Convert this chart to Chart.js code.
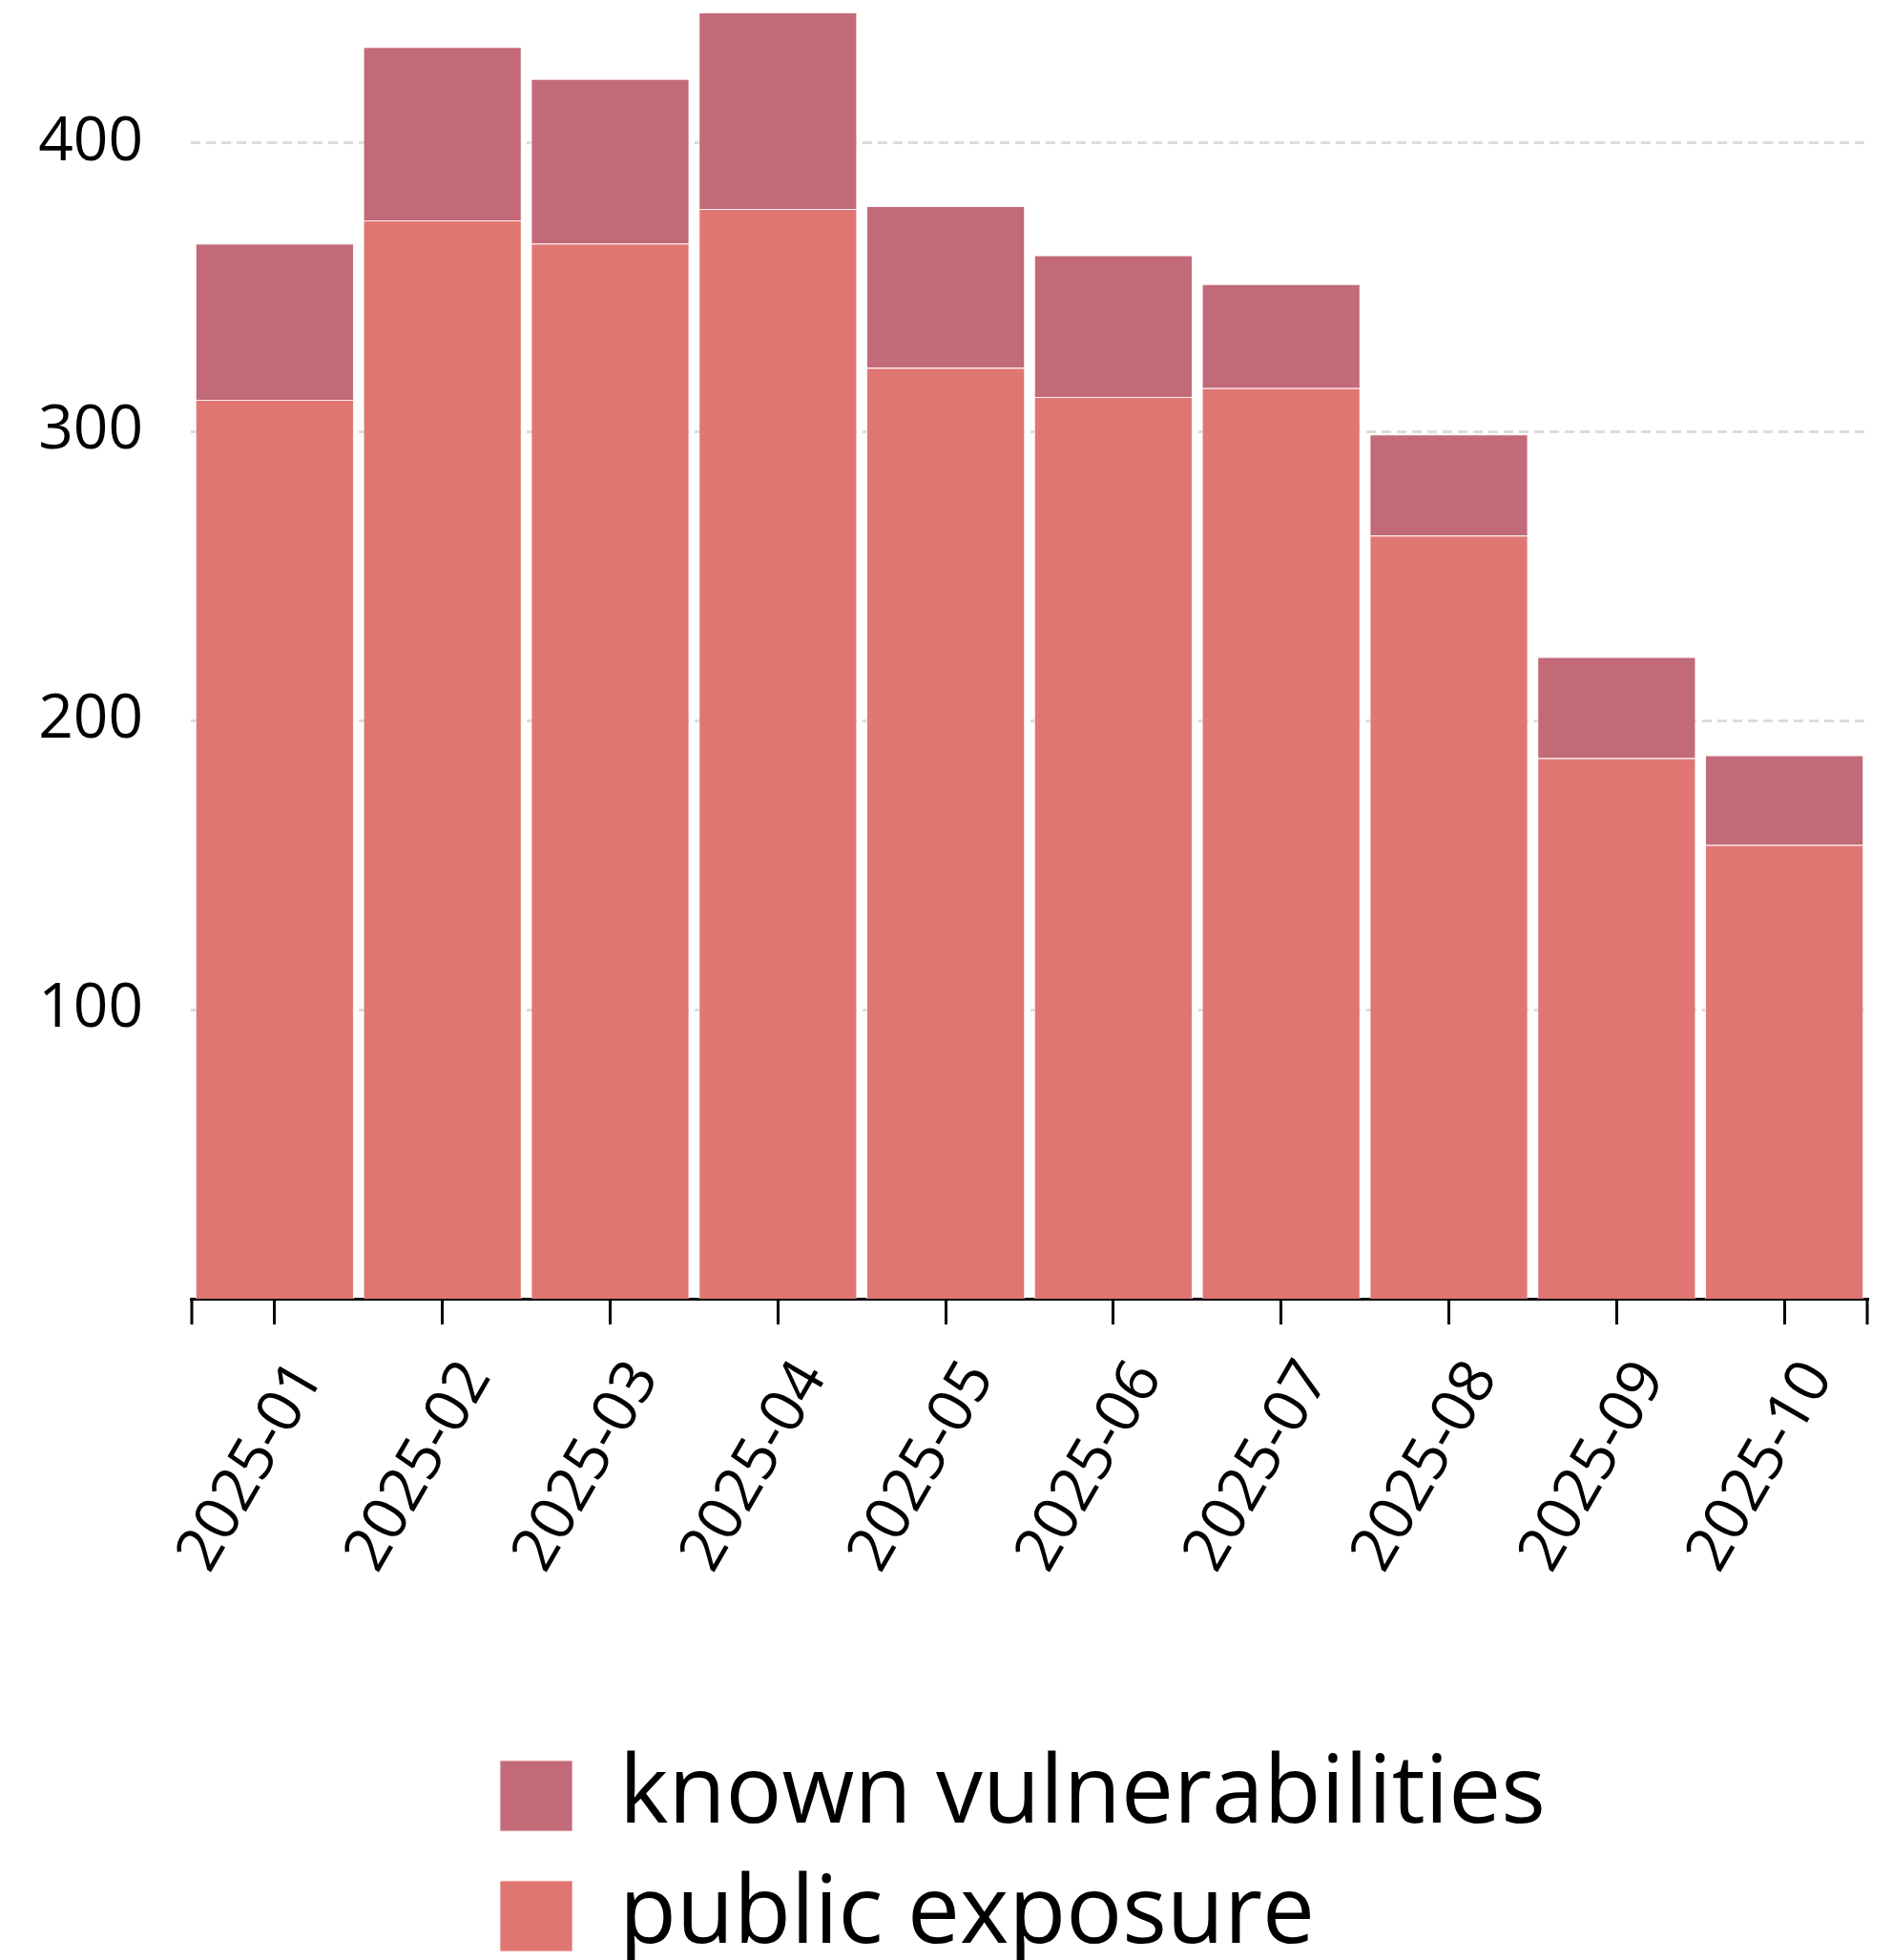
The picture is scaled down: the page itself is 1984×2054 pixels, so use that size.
<!DOCTYPE html>
<html>
<head>
<meta charset="utf-8">
<script src="https://cdn.jsdelivr.net/npm/chart.js@4.4.1/dist/chart.umd.min.js"></script>
<style>
  html, body { margin: 0; padding: 0; background: #fff; }
  canvas { display: block; }
</style>
</head>
<body>
<canvas id="riskChart" width="1984" height="2054"></canvas>
<script>
let months = ["2025-01", "2025-02", "2025-03", "2025-04", "2025-05",
              "2025-06", "2025-07", "2025-08", "2025-09", "2025-10"];
let publicExposure = [311, 373, 365, 377, 322, 312, 315, 264, 187, 157];
let knownVulns = [54, 60, 57, 68, 56, 49, 36, 35, 35, 31];
let yTicks = [100, 200, 300, 400];
let yMax = 445;

Chart.defaults.font.family = "'Open Sans', sans-serif";
Chart.defaults.color = "#000";

// end ticks at both sides of the x axis
const axisEnds = {
    id: "axisEnds",
    afterDraw(chart) {
        let ctx = chart.ctx;
        let area = chart.chartArea;
        ctx.save();
        ctx.strokeStyle = "#000";
        ctx.lineWidth = 3;
        ctx.beginPath();
        ctx.moveTo(area.left + 1, area.bottom);
        ctx.lineTo(area.left + 1, area.bottom + 27);
        ctx.moveTo(area.right - 1, area.bottom);
        ctx.lineTo(area.right - 1, area.bottom + 27);
        ctx.stroke();
        ctx.restore();
    }
};

// legend block sits left-aligned under the plot
const legendPlacement = {
    id: "legendPlacement",
    afterLayout(chart) {
        let legend = chart.legend;
        legend.left = 496;
        legend.top += 13;
    }
};

let ctx = document.getElementById("riskChart").getContext("2d");
let chartInstance = new Chart(ctx, {
    type: "bar",
    data: {
        labels: months,
        datasets: [
            {
                label: "public exposure",
                data: publicExposure,
                backgroundColor: "#E07672",
                borderColor: "rgba(255, 235, 238, 0.9)",
                borderWidth: 1,
                barPercentage: 0.945,
                categoryPercentage: 1.0
            },
            {
                label: "known vulnerabilities",
                data: knownVulns,
                backgroundColor: "#C26A78",
                borderColor: "rgba(255, 235, 238, 0.9)",
                borderWidth: 1,
                barPercentage: 0.945,
                categoryPercentage: 1.0
            }
        ]
    },
    options: {
        responsive: false,
        animation: false,
        devicePixelRatio: 1,
        layout: {
            padding: { top: 13, left: 38, right: 26, bottom: 0 }
        },
        plugins: {
            tooltip: { enabled: false },
            legend: {
                position: "bottom",
                align: "start",
                fullSize: false,
                reverse: true,
                labels: {
                    boxWidth: 76,
                    boxHeight: 74,
                    padding: 28,
                    color: "#000",
                    font: { size: 98 }
                }
            }
        },
        scales: {
            x: {
                stacked: true,
                grid: {
                    offset: false,
                    drawOnChartArea: false,
                    drawTicks: true,
                    tickLength: 27,
                    tickColor: "#000",
                    tickWidth: 3
                },
                border: { display: true, color: "#000", width: 3 },
                ticks: {
                    autoSkip: false,
                    maxRotation: 60,
                    minRotation: 60,
                    labelOffset: 36,
                    padding: 26,
                    color: "#000",
                    font: { size: 64 }
                },
                afterFit(scale) {
                    scale.height = 431;
                    scale.paddingLeft = 0;
                    scale.paddingRight = 0;
                }
            },
            y: {
                stacked: true,
                min: 0,
                max: yMax,
                afterBuildTicks(scale) {
                    scale.ticks = yTicks.map(v => ({ value: v }));
                },
                afterFit(scale) {
                    scale.width = 162;
                    scale.paddingTop = 0;
                    scale.paddingBottom = 0;
                },
                grid: {
                    drawTicks: false,
                    color: "#dcdcdc",
                    lineWidth: 3
                },
                border: { display: false, dash: [10, 6] },
                ticks: {
                    padding: 50,
                    color: "#000",
                    font: { size: 64 }
                }
            }
        }
    },
    plugins: [axisEnds, legendPlacement]
});
</script>
</body>
</html>
